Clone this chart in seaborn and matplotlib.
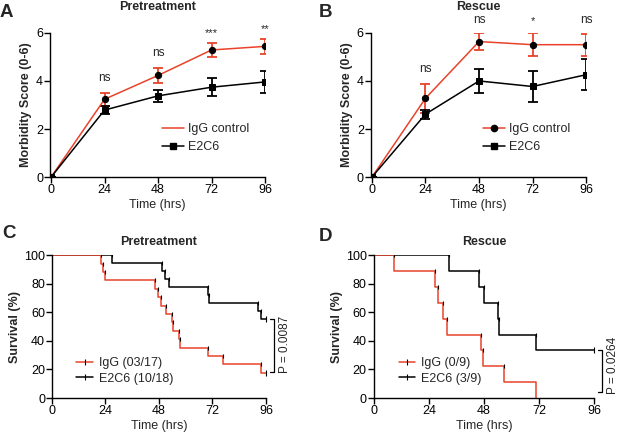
import numpy as np
import pandas as pd
import seaborn as sns
import matplotlib.pyplot as plt

# morbidity scores (mean +/- sem)
hours = [0, 24, 48, 72, 96]
pre_igg = [0, 3.24, 4.23, 5.29, 5.44]
pre_igg_err = [0, 0.27, 0.30, 0.31, 0.30]
pre_e2c6 = [0, 2.79, 3.38, 3.74, 3.96]
pre_e2c6_err = [0, 0.17, 0.24, 0.38, 0.44]
pre_sig = ['', 'ns', 'ns', '***', '**']
pre_sig_y = [0, 3.88, 4.92, 5.78, 5.94]

res_igg = [0, 3.28, 5.64, 5.51, 5.51]
res_igg_err = [0, 0.60, 0.36, 0.47, 0.46]
res_e2c6 = [0, 2.62, 4.00, 3.77, 4.26]
res_e2c6_err = [0, 0.19, 0.49, 0.64, 0.65]
res_sig = ['', 'ns', 'ns', '*', 'ns']
res_sig_y = [0, 4.25, 6.3, 6.3, 6.3]

# survival curves (step times, survival %)
c_igg_t = [0, 22, 23, 24, 46, 47.5, 49, 51, 54, 54.5, 57, 57.3, 70, 76.7, 94, 96]
c_igg_s = [100, 94.1, 88.2, 82.4, 76.5, 70.6, 64.7, 58.8, 52.9, 47.1, 41.2, 35.3, 29.4, 23.5, 17.6, 17.6]
c_e2c6_t = [0, 27, 49.2, 50.6, 52.6, 70.2, 70.6, 92.6, 94, 96]
c_e2c6_s = [100, 94.4, 88.9, 83.3, 77.8, 72.2, 66.7, 61.1, 55.6, 55.6]

d_igg_t = [0, 9, 26.7, 27.8, 30.3, 32, 46.6, 47.7, 56.7, 70.6]
d_igg_s = [100, 88.9, 77.8, 66.7, 55.6, 44.4, 33.3, 22.2, 11.1, 0]
d_e2c6_t = [0, 32.9, 46, 48, 54, 54.7, 70.6, 96]
d_e2c6_s = [100, 88.9, 77.8, 66.7, 55.6, 44.4, 33.3, 33.3]

red = '#E8432A'

sns.set_style('ticks')
plt.rcParams['font.family'] = ['Liberation Sans', 'DejaVu Sans']
plt.rcParams['font.size'] = 8.5
plt.rcParams['axes.linewidth'] = 1.0
plt.rcParams['xtick.major.width'] = 1.0
plt.rcParams['ytick.major.width'] = 1.0
plt.rcParams['xtick.major.size'] = 4
plt.rcParams['ytick.major.size'] = 4
plt.rcParams['xtick.color'] = 'black'
plt.rcParams['ytick.color'] = 'black'
plt.rcParams['axes.edgecolor'] = 'black'

fig = plt.figure(figsize=(6.17, 4.33), dpi=100)
axA = fig.add_axes([0.081, 0.591, 0.3485, 0.333])
axB = fig.add_axes([0.601, 0.591, 0.349, 0.333])
axC = fig.add_axes([0.0843, 0.0808, 0.3467, 0.330])
axD = fig.add_axes([0.6057, 0.0808, 0.3573, 0.330])


def morbidity(ax, igg, igg_err, e2c6, e2c6_err, sig, sig_y, title, igg_marker_legend, leg_x):
    df = pd.DataFrame({'hours': hours * 2,
                       'score': igg + e2c6,
                       'group': ['IgG control'] * 5 + ['E2C6'] * 5})
    ax.errorbar(hours, igg, yerr=igg_err, color=red, lw=0, elinewidth=1.3,
                capsize=3.5, capthick=1.3, zorder=2)
    ax.errorbar(hours, e2c6, yerr=e2c6_err, color='black', lw=0, elinewidth=1.3,
                capsize=3.5, capthick=1.3, zorder=2)
    sns.lineplot(data=df[df.group == 'IgG control'], x='hours', y='score', ax=ax,
                 color=red, lw=1.1, marker='o', markersize=4.5, markerfacecolor='black',
                 markeredgecolor='black', zorder=3, label='_nolegend_')
    sns.lineplot(data=df[df.group == 'E2C6'], x='hours', y='score', ax=ax,
                 color='black', lw=1.1, marker='s', markersize=4, markerfacecolor='black',
                 markeredgecolor='black', zorder=3, label='_nolegend_')
    for x, s, y in zip(hours, sig, sig_y):
        if s:
            ax.text(x, y, s, ha='center', va='bottom', fontsize=8.5 if s == 'ns' else 8)
    h1, = ax.plot([], [], color=red, lw=1.1,
                  marker='o' if igg_marker_legend else None, markersize=4.5,
                  markerfacecolor='black', markeredgecolor='black')
    h2, = ax.plot([], [], color='black', lw=1.1, marker='s', markersize=4)
    ax.legend([h1, h2], ['IgG control', 'E2C6'], frameon=False, loc='center left',
              bbox_to_anchor=(leg_x, 0.27), handlelength=1.7, handletextpad=0.35,
              fontsize=9, labelspacing=0.5, borderaxespad=0)
    ax.set_xlim(-0.5, 96)
    ax.set_ylim(0, 6)
    ax.set_xticks([0, 24, 48, 72, 96])
    ax.set_yticks([0, 2, 4, 6])
    ax.set_xlabel('Time (hrs)', fontsize=9, labelpad=2)
    ax.set_ylabel('Morbidity Score (0-6)', fontsize=9, fontweight='bold', labelpad=3)
    ax.set_title(title, fontsize=9, fontweight='bold', pad=16.5)
    sns.despine(ax=ax)
    ax.spines['left'].set_bounds(0, 6)
    ax.spines['bottom'].set_bounds(0, 96)
    ax.tick_params(labelsize=9, pad=1)


def survival(ax, igg_t, igg_s, e2c6_t, e2c6_s, igg_lab, e2c6_lab, p_text, bracket, px, title, leg_x):
    df_igg = pd.DataFrame({'t': igg_t, 's': igg_s})
    df_e = pd.DataFrame({'t': e2c6_t, 's': e2c6_s})
    sns.lineplot(data=df_e, x='t', y='s', ax=ax, color='black', lw=1.1,
                 drawstyle='steps-post', estimator=None, sort=False, label='_nolegend_')
    sns.lineplot(data=df_igg, x='t', y='s', ax=ax, color=red, lw=1.1,
                 drawstyle='steps-post', estimator=None, sort=False, label='_nolegend_')
    # small event ticks at each step
    ax.plot(igg_t[1:-1], igg_s[:-2], ls='none', marker='|', color='black',
            markersize=3, mew=0.8)
    ax.plot(e2c6_t[1:-1], e2c6_s[:-2], ls='none', marker='|', color='black',
            markersize=3, mew=0.8)
    if igg_s[-1] > 0:
        ax.plot([igg_t[-1]], [igg_s[-1]], ls='none', marker='|', color='black',
                markersize=4, mew=0.8, clip_on=False)
    ax.plot([e2c6_t[-1]], [e2c6_s[-1]], ls='none', marker='|', color='black',
            markersize=4, mew=0.8, clip_on=False)
    h1, = ax.plot([], [], color=red, lw=1.1, marker='|', markersize=4,
                  markeredgecolor='black', mew=0.8)
    h2, = ax.plot([], [], color='black', lw=1.1, marker='|', markersize=4, mew=0.8)
    ax.legend([h1, h2], [igg_lab, e2c6_lab], frameon=False, loc='center left',
              bbox_to_anchor=(leg_x, 0.19), handlelength=1.35, handletextpad=0.45,
              fontsize=9, labelspacing=0.3, borderaxespad=0)
    # p-value bracket
    lo, hi = bracket
    ax.plot([px - 1.8, px, px, px - 1.8], [hi, hi, lo, lo], color='black', lw=0.9,
            clip_on=False)
    ax.text(px + 2.0, lo - 1, p_text, rotation=90, ha='left', va='bottom',
            fontsize=8.5, clip_on=False)
    ax.set_xlim(0, 96)
    ax.set_ylim(0, 100)
    ax.set_xticks([0, 24, 48, 72, 96])
    ax.set_yticks([0, 20, 40, 60, 80, 100])
    ax.set_xlabel('Time (hrs)', fontsize=9, labelpad=2)
    ax.set_ylabel('Survival (%)', fontsize=9, fontweight='bold', labelpad=2)
    ax.set_title(title, fontsize=9, fontweight='bold', pad=7)
    sns.despine(ax=ax)
    ax.tick_params(labelsize=9, pad=1)


morbidity(axA, pre_igg, pre_igg_err, pre_e2c6, pre_e2c6_err, pre_sig, pre_sig_y,
          'Pretreatment', False, 0.50)
morbidity(axB, res_igg, res_igg_err, res_e2c6, res_e2c6_err, res_sig, res_sig_y,
          'Rescue', True, 0.50)
survival(axC, c_igg_t, c_igg_s, c_e2c6_t, c_e2c6_s, 'IgG (03/17)', 'E2C6 (10/18)',
         'P = 0.0087', (18.5, 55.6), 99.7, 'Pretreatment', 0.09)
survival(axD, d_igg_t, d_igg_s, d_e2c6_t, d_e2c6_s, 'IgG (0/9)', 'E2C6 (3/9)',
         'P = 0.0264', (4, 33.3), 99.6, 'Rescue', 0.09)

for lab, x, y in [('A', 0.0, 0.99), ('B', 0.516, 0.99),
                  ('C', 0.004, 0.48), ('D', 0.516, 0.473)]:
    fig.text(x, y, lab, fontsize=13.5, fontweight='bold', ha='left', va='top')

fig.savefig('out.png', dpi=100)
